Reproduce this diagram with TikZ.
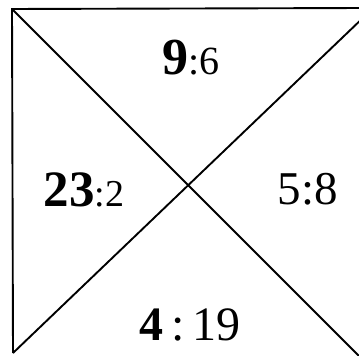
\documentclass[tikz,border=0pt]{standalone}
\usepackage{fontspec}
\setmainfont{Liberation Serif}
\begin{document}
\begin{tikzpicture}[x=1pt,y=1pt,
  edge/.style={line width=1.9pt,black},
  lbl/.style={anchor=base,inner sep=0pt}]
\useasboundingbox (0,0) rectangle (359,356);
\clip (0,0) rectangle (359,356);
\fill[white] (0,0) rectangle (359,356);
\coordinate (tl) at (12,347);
\coordinate (bl) at (13,3);
\coordinate (tr) at (366,348);
\coordinate (br) at (362,-3);
\coordinate (trd) at (366,341);
\draw[edge] (tr) -- (tl) -- (bl);
\draw[edge] (tl) -- (br);
\draw[edge] (bl) -- (trd);
\node[lbl] (top) at (191,281) {\fontsize{52}{52}\selectfont\textbf{9}\fontsize{40}{40}\selectfont:6};
\node[lbl] (left) at (84,149) {\fontsize{51}{51}\selectfont\textbf{23}\fontsize{38}{38}\selectfont:2};
\node[lbl] (right) at (308,151) {\fontsize{47}{47}\selectfont 5:8};
\node[lbl] (bottom) at (190,15) {\fontsize{48}{48}\selectfont\textbf{4}\,:\,19};
\end{tikzpicture}
\end{document}
